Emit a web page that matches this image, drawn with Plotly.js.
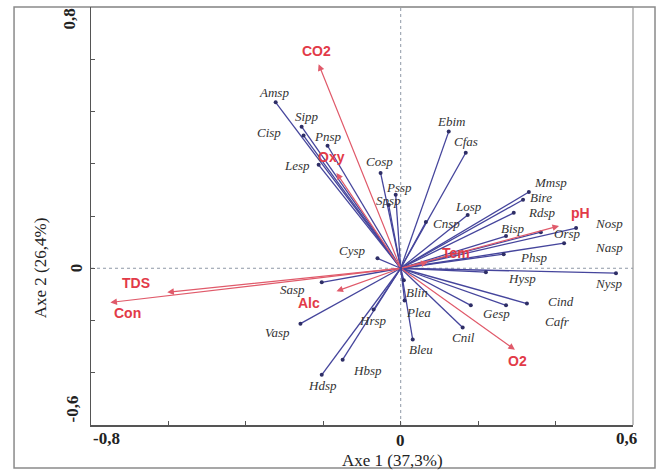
<!DOCTYPE html>
<html>
<head>
<meta charset="utf-8">
<script src="https://cdn.plot.ly/plotly-3.0.1.min.js"></script>
<style>html,body{margin:0;padding:0;background:#fff;}#chart{width:657px;height:470px;}</style>
</head>
<body>
<div id="chart"></div>
<script>
// Environmental variables (red arrows)
const envNames = ['CO2','Oxy','TDS','Con','Alc','pH','Tem','O2'];
const envX = [-0.212,-0.166,-0.603,-0.750,-0.166,0.409,0.070,0.295];
const envY = [0.781,0.365,-0.092,-0.131,-0.088,0.162,0.023,-0.312];

// Species (blue vectors)
const spNames = ['Amsp','Sipp','Cisp','Pnsp','Lesp','Cosp','Pssp','Spsp','Cysp','Ebim','Cfas','Losp','Cnsp',
  'Mmsp','Bire','Rdsp','Orsp','Bisp','Nosp','Nasp','Phsp','Hysp','Nysp','Cind','Cafr','Gesp','Cnil','Bleu',
  'Plea','Blin','Sasp','Vasp','Hrsp','Hbsp','Hdsp'];
const spX = [-0.323,-0.256,-0.251,-0.189,-0.212,-0.052,-0.013,-0.031,-0.060,0.124,0.168,0.173,0.065,
  0.331,0.316,0.292,0.362,0.272,0.453,0.422,0.266,0.220,0.556,0.326,0.272,0.181,0.160,0.031,
  0.010,0.008,-0.204,-0.259,-0.070,-0.150,-0.204];
const spY = [0.635,0.542,0.508,0.469,0.396,0.365,0.281,0.242,0.038,0.523,0.442,0.204,0.177,
  0.292,0.262,0.212,0.138,0.123,0.154,0.096,0.054,-0.015,-0.019,-0.135,-0.142,-0.142,-0.227,-0.273,
  -0.123,-0.046,-0.054,-0.212,-0.158,-0.350,-0.408];

// Label placement (pixel offsets: [dx right, dy down])
const labelOffset = {
  CO2:[-2,-13], Oxy:[-5,-16], TDS:[-31,-9], Con:[17,11], Alc:[-27,12], pH:[21,-13], Tem:[28,-9], O2:[3,11],
  Amsp:[-2,-10], Sipp:[5,-10], Cisp:[-35,-3], Pnsp:[0,-9], Lesp:[-22,1], Cosp:[-1,-11], Pssp:[3,-7], Spsp:[0,-5],
  Cysp:[-25,-8], Ebim:[2,-10], Cfas:[0,-11], Losp:[1,-8], Cnsp:[21,1], Mmsp:[22,-9], Bire:[18,-2], Rdsp:[28,0],
  Orsp:[27,1], Bisp:[7,-8], Nosp:[33,-5], Nasp:[45,4], Phsp:[30,3], Hysp:[36,6], Nysp:[-7,10], Cind:[34,-2],
  Cafr:[51,16], Gesp:[26,8], Cnil:[1,10], Bleu:[8,10], Plea:[14,12], Blin:[13,12], Sasp:[-29,7], Vasp:[-23,9],
  Hrsp:[-1,11], Hbsp:[25,11], Hdsp:[1,11]
};

const yTickVals = [-0.6,-0.4,-0.2,0,0.2,0.4,0.6,0.8,1.0];
const xTickVals = [-0.8,-0.6,-0.4,-0.2,0,0.2,0.4,0.6];

// species line segments from origin
const segX = [], segY = [];
spNames.forEach((n,i)=>{ segX.push(0, spX[i], null); segY.push(0, spY[i], null); });

const traces = [
  {x: segX, y: segY, mode:'lines', type:'scatter', line:{color:'#45459c', width:1.3}, hoverinfo:'skip', showlegend:false},
  {x: spX, y: spY, mode:'markers', type:'scatter', marker:{color:'#2e2e66', size:4}, hoverinfo:'skip', showlegend:false}
];

const annotations = [];
// env arrows
envNames.forEach((n,i)=>{
  annotations.push({x: envX[i], y: envY[i], xref:'x', yref:'y', ax:0, ay:0, axref:'x', ayref:'y',
    text:'', showarrow:true, arrowhead:2, arrowsize:1.1, arrowwidth:1.2, arrowcolor:'#e05a6a'});
});
// species labels
spNames.forEach((n,i)=>{
  const o = labelOffset[n] || [0,-8];
  annotations.push({x: spX[i], y: spY[i], xref:'x', yref:'y', text: n, showarrow:false,
    xshift:o[0], yshift:-o[1], font:{family:'Liberation Serif, Times New Roman, serif', size:13, color:'#333', style:'italic'}});
});
// env labels
envNames.forEach((n,i)=>{
  const o = labelOffset[n] || [0,-8];
  annotations.push({x: envX[i], y: envY[i], xref:'x', yref:'y', text: n, showarrow:false,
    xshift:o[0], yshift:-o[1], font:{family:'Liberation Sans, Arial, sans-serif', size:14, color:'#e23a48', weight:'bold'}});
});
// tick labels
const tickFont = {family:'Liberation Serif, Times New Roman, serif', size:17, color:'#222', weight:'bold'};
annotations.push({x:-0.8, y:0, xref:'x', yref:'paper', text:'-0,8', showarrow:false, xanchor:'left', yanchor:'top', yshift:-2, font:tickFont});
annotations.push({x:0, y:0, xref:'x', yref:'paper', text:'0', showarrow:false, xanchor:'center', yanchor:'top', yshift:-4, font:tickFont});
annotations.push({x:0.6, y:0, xref:'x', yref:'paper', text:'0,6', showarrow:false, xanchor:'right', yanchor:'top', yshift:-2, xshift:6, font:tickFont});
annotations.push({x:0, y:1.0, xref:'paper', yref:'y', text:'0,8', showarrow:false, textangle:-90, xanchor:'center', yanchor:'top', xshift:-22, yshift:0, font:tickFont});
annotations.push({x:0, y:0, xref:'paper', yref:'y', text:'0', showarrow:false, textangle:-90, xanchor:'center', yanchor:'middle', xshift:-15, font:tickFont});
annotations.push({x:0, y:-0.6, xref:'paper', yref:'y', text:'-0,6', showarrow:false, textangle:-90, xanchor:'center', yanchor:'bottom', xshift:-19, yshift:0, font:tickFont});
// axis titles
const titleFont = {family:'Liberation Serif, Times New Roman, serif', size:17, color:'#222'};
annotations.push({x:-0.02, y:0, xref:'x', yref:'paper', text:'Axe 1 (37,3%)', showarrow:false, xanchor:'center', yanchor:'top', yshift:-24, font:titleFont});
annotations.push({x:0, y:0, xref:'paper', yref:'y', text:'Axe 2 (26,4%)', showarrow:false, textangle:-90, xanchor:'center', yanchor:'middle', xshift:-51, font:titleFont});

const shapes = [
  // outer frame
  {type:'rect', xref:'paper', yref:'paper', x0:-0.142, x1:1.0406, y0:-0.1029, y1:1.0, line:{color:'#8a8a8a', width:1.5}, layer:'below'},
  // plot frame top/right
  {type:'line', xref:'paper', yref:'paper', x0:0, x1:1, y0:1, y1:1, line:{color:'#999', width:1.2}},
  {type:'line', xref:'paper', yref:'paper', x0:1, x1:1, y0:0, y1:1, line:{color:'#999', width:1.2}},
  // zero dotted lines
  {type:'line', xref:'x', yref:'paper', x0:0, x1:0, y0:0, y1:1, line:{color:'#8e98a6', width:1, dash:'dot'}, layer:'below'},
  {type:'line', xref:'paper', yref:'y', x0:0, x1:1, y0:0, y1:0, line:{color:'#8e98a6', width:1, dash:'dot'}, layer:'below'}
];

const layout = {
  width:657, height:470,
  margin:{l:91, r:24, t:7, b:45},
  paper_bgcolor:'#fff', plot_bgcolor:'#fff',
  showlegend:false,
  xaxis:{range:[-0.8,0.6], tickvals:xTickVals, showticklabels:false, ticks:'inside', ticklen:4, tickcolor:'#555',
    showline:true, linecolor:'#555', linewidth:1.5, showgrid:false, zeroline:false, fixedrange:true},
  yaxis:{range:[-0.6,1.0], tickvals:yTickVals, showticklabels:false, ticks:'inside', ticklen:4, tickcolor:'#555',
    showline:true, linecolor:'#555', linewidth:1.5, showgrid:false, zeroline:false, fixedrange:true},
  annotations: annotations,
  shapes: shapes
};

Plotly.newPlot('chart', traces, layout, {displayModeBar:false, staticPlot:true});
</script>
</body>
</html>
